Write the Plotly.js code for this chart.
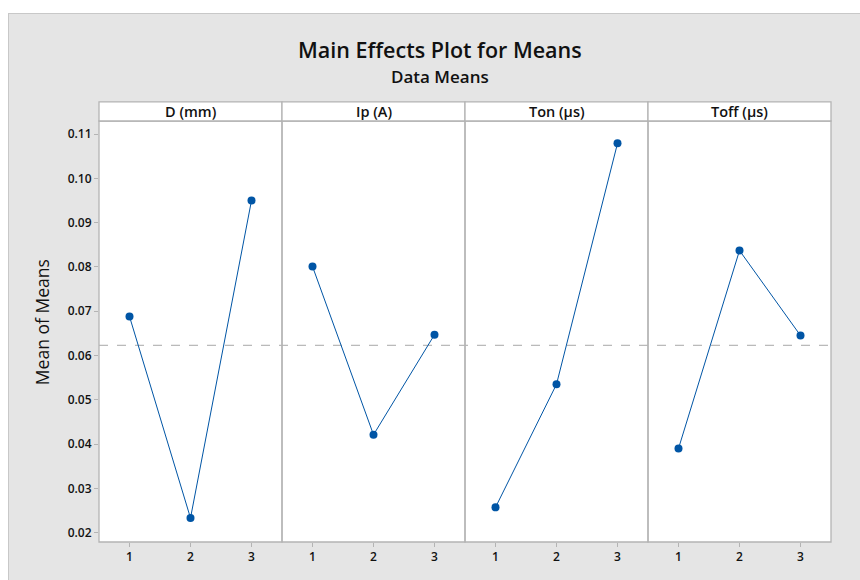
<!DOCTYPE html>
<html>
<head>
<meta charset="utf-8">
<script src="https://cdn.plot.ly/plotly-3.0.1.min.js"></script>
<style>
  html, body { margin: 0; padding: 0; background: #ffffff; }
  #wrap { position: absolute; left: 8px; top: 13px; width: 852px; height: 567px; box-sizing: border-box; border-top: 1px solid #c8c8c8; border-left: 1px solid #c8c8c8; background: #e5e5e5; }
  #chart { position: absolute; left: -1px; top: -1px; width: 852px; height: 567px; }
</style>
</head>
<body>
<div id="wrap"><div id="chart"></div></div>
<script>
// ---- data ----
var factors = ["D (mm)", "Ip (A)", "Ton (µs)", "Toff (µs)"];
var levels = [1, 2, 3];
var meansD    = [0.0688, 0.0233, 0.0950];
var meansIp   = [0.0801, 0.0421, 0.0647];
var meansTon  = [0.0257, 0.0535, 0.1079];
var meansToff = [0.0390, 0.0837, 0.0645];
var grandMean = 0.0623;
var yTicks = [0.02, 0.03, 0.04, 0.05, 0.06, 0.07, 0.08, 0.09, 0.10, 0.11];

var allMeans = [meansD, meansIp, meansTon, meansToff];
var blue = "#0055a5";
var borderCol = "#b4b4b4";
var font = "'Open Sans', 'Noto Sans', sans-serif";

var traces = [];
var layout = {
  width: 852, height: 567,
  margin: {l: 91, r: 29, t: 108, b: 38},
  paper_bgcolor: "rgba(0,0,0,0)",
  plot_bgcolor: "#ffffff",
  showlegend: false,
  font: {family: font, size: 12, color: "#111111"},
  shapes: [], annotations: []
};

for (var i = 0; i < 4; i++) {
  var ax = i === 0 ? "x" : "x" + (i + 1);
  traces.push({
    x: levels, y: allMeans[i], xaxis: ax, yaxis: "y",
    type: "scatter", mode: "lines+markers",
    line: {color: blue, width: 1},
    marker: {color: blue, size: 8},
    hoverinfo: "x+y"
  });
  var key = i === 0 ? "xaxis" : "xaxis" + (i + 1);
  layout[key] = {
    domain: [i / 4, (i + 1) / 4],
    range: [0.5, 3.5],
    tickvals: levels, ticktext: levels.map(String),
    ticks: "outside", ticklen: 4, tickcolor: borderCol, tickwidth: 1,
    showgrid: false, zeroline: false, showline: false,
    anchor: "y", fixedrange: true,
    tickfont: {family: font, size: 12, color: "#111111", weight: 600}
  };
  // panel border
  layout.shapes.push({type: "rect", xref: "paper", yref: "paper",
    x0: i / 4, x1: (i + 1) / 4, y0: 0, y1: 1,
    line: {color: borderCol, width: 1.3}, layer: "above"});
  // header strip
  layout.shapes.push({type: "rect", xref: "paper", yref: "paper",
    x0: i / 4, x1: (i + 1) / 4, y0: 1, y1: 1.0452,
    fillcolor: "#ffffff", line: {color: borderCol, width: 1.3}});
  layout.annotations.push({xref: "paper", yref: "paper",
    x: (i + 0.5) / 4, y: 1.0226, xanchor: "center", yanchor: "middle",
    text: factors[i], showarrow: false,
    font: {family: font, size: 14.5, color: "#111111", weight: 600}});
}

layout.yaxis = {
  range: [0.01788, 0.11295],
  tickvals: yTicks, tickformat: ".2f",
  ticks: "outside", ticklen: 4, tickcolor: borderCol, tickwidth: 1,
  showgrid: false, zeroline: false, showline: false,
  anchor: "x", fixedrange: true,
  tickfont: {family: font, size: 12, color: "#111111", weight: 600}
};

// grand mean reference line
layout.shapes.push({type: "line", xref: "paper", yref: "y",
  x0: 0, x1: 1, y0: grandMean, y1: grandMean,
  line: {color: "#a8a8a8", width: 1, dash: "dash"}, layer: "below"});

// titles
layout.annotations.push({xref: "paper", yref: "paper", x: 0.4658, y: 1.1688,
  xanchor: "center", yanchor: "middle", showarrow: false,
  text: "Main Effects Plot for Means",
  font: {family: font, size: 21.5, color: "#111111", weight: 600}});
layout.annotations.push({xref: "paper", yref: "paper", x: 0.4658, y: 1.1046,
  xanchor: "center", yanchor: "middle", showarrow: false,
  text: "Data Means",
  font: {family: font, size: 17, color: "#111111", weight: 600}});
layout.annotations.push({xref: "paper", yref: "paper", x: -0.0779, y: 0.5222,
  xanchor: "center", yanchor: "middle", showarrow: false, textangle: -90,
  text: "Mean of Means",
  font: {family: font, size: 17.5, color: "#111111"}});

Plotly.newPlot("chart", traces, layout, {displayModeBar: false});
</script>
</body>
</html>
